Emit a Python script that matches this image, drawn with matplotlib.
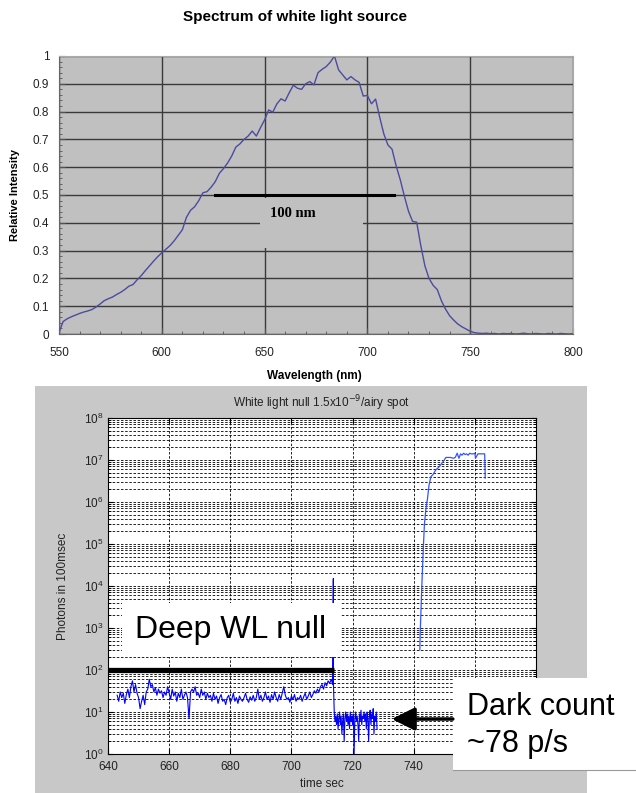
import matplotlib
matplotlib.use('Agg')
import matplotlib.pyplot as plt
from matplotlib.patches import Rectangle, FancyArrowPatch
from matplotlib.lines import Line2D
from matplotlib.ticker import MultipleLocator, FuncFormatter

plt.rcParams['font.family'] = ['Liberation Sans', 'DejaVu Sans']

# --- spectrum of the white light source (relative intensity, 550..800 nm, 2 nm step)
wavelength = list(range(550, 801, 2))
intensity = [
    0.005, 0.045, 0.055, 0.062, 0.068, 0.074, 0.079, 0.083, 0.088, 0.097,  # 550-568
    0.108, 0.120, 0.127, 0.133, 0.142, 0.150, 0.160, 0.172, 0.178, 0.195,  # 570-588
    0.210, 0.228, 0.245, 0.262, 0.278, 0.292, 0.305, 0.318, 0.335, 0.355,  # 590-608
    0.375, 0.420, 0.445, 0.458, 0.480, 0.508, 0.512, 0.528, 0.548, 0.578,  # 610-628
    0.595, 0.615, 0.640, 0.672, 0.684, 0.700, 0.712, 0.730, 0.712, 0.742,  # 630-648
    0.770, 0.806, 0.798, 0.828, 0.846, 0.838, 0.868, 0.895, 0.884, 0.880,  # 650-668
    0.900, 0.908, 0.896, 0.940, 0.952, 0.962, 0.978, 1.000, 0.950, 0.932,  # 670-688
    0.914, 0.926, 0.914, 0.905, 0.856, 0.858, 0.828, 0.845, 0.780, 0.720,  # 690-708
    0.680, 0.665, 0.605, 0.555, 0.496, 0.442, 0.405, 0.402, 0.318, 0.245,  # 710-728
    0.200, 0.175, 0.160, 0.120, 0.090, 0.066, 0.050, 0.036, 0.026, 0.018,  # 730-748
    0.010, 0.005, 0.003, 0.002, 0.003, 0.001, 0.002, 0.000, 0.002, 0.001,  # 750-768
    0.002, 0.000, 0.001, 0.003, 0.001, 0.000, 0.002, 0.001, 0.000, 0.002,  # 770-788
    0.001, 0.000, 0.002, 0.001, 0.000, 0.001,                              # 790-800
]
fwhm_start, fwhm_end, fwhm_level = 626, 713, 0.5

# --- white light null photon counts (per 100 ms)
null_t = [643 + 0.5 * i for i in range(142)]
null_counts = [
    25, 18, 30, 22, 28, 16, 26, 35, 22, 40,
    55, 30, 45, 28, 22, 12, 18, 25, 15, 30,
    35, 60, 40, 45, 30, 38, 25, 35, 28, 32,
    22, 30, 25, 40, 28, 20, 35, 24, 30, 18,
    28, 22, 35, 20, 25, 30, 22, 7, 30, 35,
    30, 40, 25, 28, 22, 35, 25, 30, 20, 28,
    22, 25, 18, 28, 20, 24, 16, 22, 26, 18,
    20, 15, 22, 25, 17, 20, 28, 18, 22, 16,
    24, 20, 18, 22, 28, 20, 17, 23, 19, 25,
    18, 22, 35, 20, 25, 18, 22, 30, 20, 24,
    17, 26, 20, 30, 22, 18, 26, 20, 28, 40,
    25, 20, 22, 17, 24, 20, 26, 18, 22, 20,
    25, 18, 23, 28, 20, 24, 30, 22, 26, 32,
    28, 35, 30, 40, 45, 35, 50, 42, 55, 48,
    60, 45,
]
spike_t = [713.7, 713.7]
spike_counts = [1.5e4, 60]
dark_t = [714 + 0.25 * i for i in range(57)]
dark_counts = [
    10, 6, 8, 5, 9, 4, 7, 10,
    5, 8, 3, 6, 9, 2, 7, 10,
    6, 9, 5, 8, 4, 10, 6, 8,
    5, 9, 1, 7, 10, 6, 8, 5,
    2, 9, 6, 11, 5, 8, 7, 10,
    6, 9, 4, 10, 7, 2, 8, 11,
    5, 9, 7, 12, 3, 8, 6, 10,
    4,
]
rise_t = [742.0, 742.1, 742.2, 742.4, 742.6, 742.9, 743.2, 743.5, 744.0, 744.5,
          745.0, 745.6, 746.3, 747.2, 748.0, 749.0, 750.0, 750.5, 752.0, 753.0,
          753.6, 754.2, 754.8, 755.3, 755.8, 756.3, 756.8, 757.3, 757.8, 758.3,
          758.8, 759.5, 760.0, 760.2, 761.0, 762.0, 763.2, 763.4]
rise_counts = [300, 700, 1100, 3000, 8000, 3e4, 1e5, 3e5, 7e5, 1.2e6,
               2.5e6, 4e6, 4.5e6, 5.8e6, 6.5e6, 8e6, 1e7, 1.15e7, 1.15e7, 1.1e7,
               1.15e7, 1.45e7, 1.1e7, 1.4e7, 1.3e7, 1.45e7, 1.35e7, 1.4e7, 1.3e7, 1.45e7,
               1.4e7, 1.4e7, 1.45e7, 1.1e7, 1.4e7, 1.4e7, 1.4e7, 3.7e6]
null_level = 100
null_bar_t = [640, 714]

fig = plt.figure(figsize=(6.36, 7.93), dpi=100)

# gray matlab figure panel behind the lower plot
fig.add_artist(Rectangle((0.055, 0.0), 0.868, 0.5132, transform=fig.transFigure,
                         facecolor='#c8c8c8', edgecolor='none', zorder=-1))

# ---------------- top: spectrum ----------------
ax1 = fig.add_axes([0.0928, 0.5788, 0.808, 0.3506])
ax1.set_facecolor('#c0c0c0')
ax1.plot(wavelength, intensity, color='#4b4ba0', lw=1.0, zorder=2)
ax1.plot([fwhm_start, fwhm_end], [fwhm_level, fwhm_level], color='k', lw=2.2, zorder=3)
ax1.add_patch(Rectangle((648, 0.31), 50, 0.18, facecolor='#c0c0c0',
                        edgecolor='none', zorder=1.7))
ax1.text(664, 0.435, '100 nm', family='Liberation Serif', fontweight='bold',
         fontsize=10.5, ha='center', va='center', zorder=4)
ax1.set_xlim(550, 800)
ax1.set_ylim(0, 1)
ax1.xaxis.set_major_locator(MultipleLocator(50))
ax1.xaxis.set_minor_locator(MultipleLocator(10))
ax1.yaxis.set_major_locator(MultipleLocator(0.1))
ax1.yaxis.set_minor_locator(MultipleLocator(0.02))
ax1.yaxis.set_major_formatter(FuncFormatter(lambda v, p: '%g' % round(v, 1)))
ax1.grid(True, which='major', color='#3a3a3a', lw=1.0)
ax1.tick_params(which='both', direction='in', labelsize=8.5, colors='#555555',
                labelcolor='#222222')
ax1.tick_params(which='major', length=4)
ax1.tick_params(which='minor', length=2)
ax1.tick_params(axis='x', pad=9)
ax1.tick_params(axis='y', pad=7)
for side in ['left', 'bottom']:
    ax1.spines[side].set_color('#666666')
for side in ['top', 'right']:
    ax1.spines[side].set_color('#aaaaaa')
ax1.set_ylabel('Relative Intensity', fontweight='bold', fontsize=8)
ax1.yaxis.set_label_coords(-0.076, 0.5)
ax1.set_xlabel('Wavelength (nm)', fontweight='bold', fontsize=8.5)
ax1.xaxis.set_label_coords(0.496, -0.13)
fig.text(0.464, 0.978, 'Spectrum of white light source', fontweight='bold',
         fontsize=11, ha='center', va='center')

# ---------------- bottom: null measurement ----------------
ax2 = fig.add_axes([0.1698, 0.0492, 0.673, 0.4237])
ax2.set_facecolor('white')
ax2.set_yscale('log')
trace_t = null_t + spike_t + dark_t
trace_counts = null_counts + spike_counts + dark_counts
ax2.plot(trace_t, trace_counts, color='#0000ff', lw=0.8, zorder=2)
ax2.plot(rise_t, rise_counts, color='#3355ff', lw=0.9, zorder=2)
ax2.plot(null_bar_t, [null_level, null_level], color='k', lw=3.8,
         solid_capstyle='butt', zorder=3, clip_on=False)
ax2.set_xlim(640, 780)
ax2.set_ylim(1, 1e8)
ax2.xaxis.set_major_locator(MultipleLocator(20))
ax2.grid(True, axis='x', which='major', color='k', ls=(0, (3, 2)), lw=0.6)
ax2.grid(True, axis='y', which='both', color='k', ls=(0, (3, 2)), lw=0.6)
ax2.tick_params(which='both', direction='in', labelsize=8.5, labelcolor='#222222',
                top=True, right=True)
ax2.tick_params(axis='x', pad=5)
for sp in ax2.spines.values():
    sp.set_color('k')
    sp.set_linewidth(0.8)
ax2.set_title('White light null 1.5x10$^{-9}$/airy spot', fontsize=8.5,
              color='#222222', pad=8)
ax2.set_ylabel('Photons in 100msec', fontsize=8.5, color='#222222')
ax2.yaxis.set_label_coords(-0.091, 0.5)
ax2.set_xlabel('time sec', fontsize=8.5, color='#222222')
ax2.xaxis.set_label_coords(0.5, -0.072)

# "Deep WL null" label box
fig.add_artist(Rectangle((0.192, 0.1715), 0.344, 0.068, transform=fig.transFigure,
                         facecolor='white', edgecolor='none', zorder=5))
fig.text(0.2123, 0.1955, 'Deep WL null', fontsize=23, ha='left', va='baseline',
         zorder=6)

# "Dark count" label box with arrow
fig.add_artist(Rectangle((0.712, 0.029), 0.288, 0.116, transform=fig.transFigure,
                         facecolor='white', edgecolor='none', zorder=5))
fig.add_artist(Line2D([0.712, 1.0], [0.029, 0.029], transform=fig.transFigure,
                      color='#999999', lw=0.8, zorder=6))
fig.text(0.734, 0.0984, 'Dark count', fontsize=22, ha='left', va='baseline', zorder=6)
fig.text(0.734, 0.0517, '~78 p/s', fontsize=22, ha='left', va='baseline', zorder=6)
fig.add_artist(FancyArrowPatch((0.712, 0.0933), (0.616, 0.0933),
                               transform=fig.transFigure,
                               arrowstyle='-|>,head_length=0.7,head_width=0.35',
                               mutation_scale=20, lw=2.5, color='k',
                               shrinkA=0, shrinkB=0, zorder=6))

fig.savefig('out.png', dpi=100)
